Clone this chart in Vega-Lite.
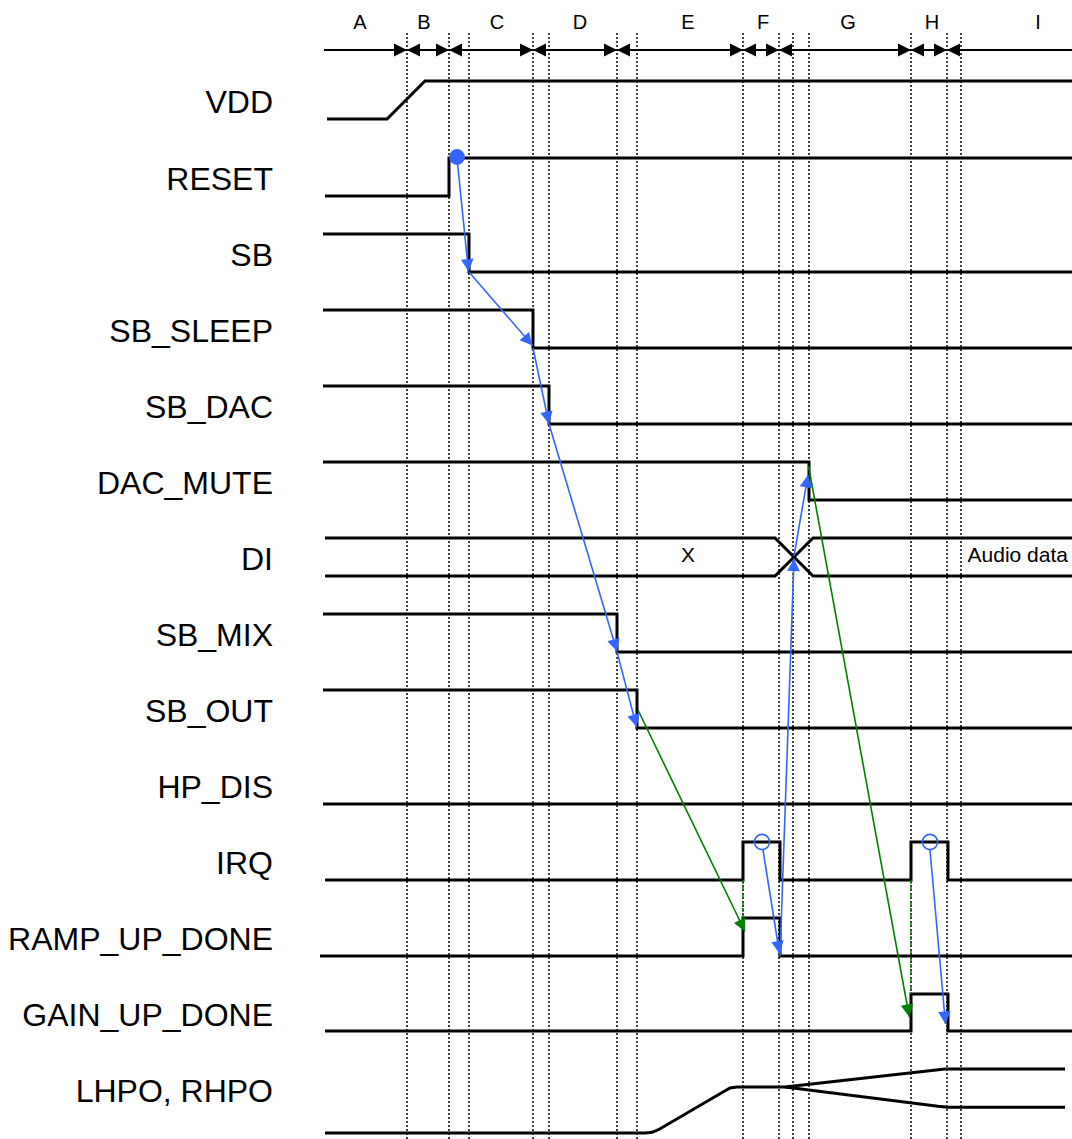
{
  "$schema": "https://vega.github.io/schema/vega-lite/v6.json",
  "width": 1072,
  "height": 1139,
  "autosize": {"type": "none"},
  "padding": 0,
  "background": "white",
  "config": {"view": {"stroke": null}},
  "datasets": {
    "grid": [
      {"t": 407, "v": 33, "v2": 1139}, {"t": 449, "v": 33, "v2": 1139}, {"t": 469, "v": 33, "v2": 1139},
      {"t": 533, "v": 33, "v2": 1139}, {"t": 549, "v": 33, "v2": 1139}, {"t": 617, "v": 33, "v2": 1139},
      {"t": 637, "v": 33, "v2": 1139}, {"t": 743, "v": 33, "v2": 1139}, {"t": 779, "v": 33, "v2": 1139},
      {"t": 793, "v": 33, "v2": 1139}, {"t": 809, "v": 33, "v2": 1139}, {"t": 911, "v": 33, "v2": 1139},
      {"t": 947, "v": 33, "v2": 1139}, {"t": 961, "v": 33, "v2": 1139}
    ],
    "timeline": [{"t": 324, "t2": 1072, "v": 50}],
    "bounds": [
      {"t": 407, "v": 50}, {"t": 449, "v": 50}, {"t": 533, "v": 50}, {"t": 617, "v": 50},
      {"t": 743, "v": 50}, {"t": 779, "v": 50}, {"t": 911, "v": 50}, {"t": 947, "v": 50}
    ],
    "phases": [
      {"p": "A", "t": 360, "v": 22}, {"p": "B", "t": 424, "v": 22}, {"p": "C", "t": 497, "v": 22},
      {"p": "D", "t": 580, "v": 22}, {"p": "E", "t": 688, "v": 22}, {"p": "F", "t": 763, "v": 22},
      {"p": "G", "t": 848, "v": 22}, {"p": "H", "t": 932, "v": 22}, {"p": "I", "t": 1038, "v": 22}
    ],
    "signals": [
      {"s": "VDD", "v": 100}, {"s": "RESET", "v": 177}, {"s": "SB", "v": 253},
      {"s": "SB_SLEEP", "v": 329}, {"s": "SB_DAC", "v": 405}, {"s": "DAC_MUTE", "v": 481},
      {"s": "DI", "v": 557}, {"s": "SB_MIX", "v": 633}, {"s": "SB_OUT", "v": 709},
      {"s": "HP_DIS", "v": 785}, {"s": "IRQ", "v": 861}, {"s": "RAMP_UP_DONE", "v": 937},
      {"s": "GAIN_UP_DONE", "v": 1013}, {"s": "LHPO, RHPO", "v": 1089}
    ],
    "waves": [
      {"w": "VDD", "o": 1, "t": 327, "v": 119}, {"w": "VDD", "o": 2, "t": 387, "v": 119},
      {"w": "VDD", "o": 3, "t": 425, "v": 81}, {"w": "VDD", "o": 4, "t": 1072, "v": 81},
      {"w": "RESET", "o": 1, "t": 325, "v": 196}, {"w": "RESET", "o": 2, "t": 449, "v": 196},
      {"w": "RESET", "o": 3, "t": 449, "v": 158}, {"w": "RESET", "o": 4, "t": 1072, "v": 158},
      {"w": "SB", "o": 1, "t": 323, "v": 234}, {"w": "SB", "o": 2, "t": 469, "v": 234},
      {"w": "SB", "o": 3, "t": 469, "v": 272}, {"w": "SB", "o": 4, "t": 1072, "v": 272},
      {"w": "SB_SLEEP", "o": 1, "t": 323, "v": 310}, {"w": "SB_SLEEP", "o": 2, "t": 533, "v": 310},
      {"w": "SB_SLEEP", "o": 3, "t": 533, "v": 348}, {"w": "SB_SLEEP", "o": 4, "t": 1072, "v": 348},
      {"w": "SB_DAC", "o": 1, "t": 323, "v": 386}, {"w": "SB_DAC", "o": 2, "t": 549, "v": 386},
      {"w": "SB_DAC", "o": 3, "t": 549, "v": 424}, {"w": "SB_DAC", "o": 4, "t": 1072, "v": 424},
      {"w": "DAC_MUTE", "o": 1, "t": 323, "v": 462}, {"w": "DAC_MUTE", "o": 2, "t": 809, "v": 462},
      {"w": "DAC_MUTE", "o": 3, "t": 809, "v": 500}, {"w": "DAC_MUTE", "o": 4, "t": 1072, "v": 500},
      {"w": "DI_a", "o": 1, "t": 325, "v": 538}, {"w": "DI_a", "o": 2, "t": 775, "v": 538},
      {"w": "DI_a", "o": 3, "t": 813, "v": 576}, {"w": "DI_a", "o": 4, "t": 1072, "v": 576},
      {"w": "DI_b", "o": 1, "t": 325, "v": 576}, {"w": "DI_b", "o": 2, "t": 775, "v": 576},
      {"w": "DI_b", "o": 3, "t": 813, "v": 538}, {"w": "DI_b", "o": 4, "t": 1072, "v": 538},
      {"w": "SB_MIX", "o": 1, "t": 323, "v": 614}, {"w": "SB_MIX", "o": 2, "t": 617, "v": 614},
      {"w": "SB_MIX", "o": 3, "t": 617, "v": 652}, {"w": "SB_MIX", "o": 4, "t": 1072, "v": 652},
      {"w": "SB_OUT", "o": 1, "t": 323, "v": 690}, {"w": "SB_OUT", "o": 2, "t": 637, "v": 690},
      {"w": "SB_OUT", "o": 3, "t": 637, "v": 728}, {"w": "SB_OUT", "o": 4, "t": 1072, "v": 728},
      {"w": "HP_DIS", "o": 1, "t": 323, "v": 804}, {"w": "HP_DIS", "o": 2, "t": 1072, "v": 804},
      {"w": "IRQ", "o": 1, "t": 325, "v": 880}, {"w": "IRQ", "o": 2, "t": 743, "v": 880},
      {"w": "IRQ", "o": 3, "t": 743, "v": 842}, {"w": "IRQ", "o": 4, "t": 780, "v": 842},
      {"w": "IRQ", "o": 5, "t": 780, "v": 880}, {"w": "IRQ", "o": 6, "t": 911, "v": 880},
      {"w": "IRQ", "o": 7, "t": 911, "v": 842}, {"w": "IRQ", "o": 8, "t": 948, "v": 842},
      {"w": "IRQ", "o": 9, "t": 948, "v": 880}, {"w": "IRQ", "o": 10, "t": 1072, "v": 880},
      {"w": "RAMP_UP_DONE", "o": 1, "t": 320, "v": 956}, {"w": "RAMP_UP_DONE", "o": 2, "t": 743, "v": 956},
      {"w": "RAMP_UP_DONE", "o": 3, "t": 743, "v": 918}, {"w": "RAMP_UP_DONE", "o": 4, "t": 780, "v": 918},
      {"w": "RAMP_UP_DONE", "o": 5, "t": 780, "v": 956}, {"w": "RAMP_UP_DONE", "o": 6, "t": 1072, "v": 956},
      {"w": "GAIN_UP_DONE", "o": 1, "t": 325, "v": 1031}, {"w": "GAIN_UP_DONE", "o": 2, "t": 911, "v": 1031},
      {"w": "GAIN_UP_DONE", "o": 3, "t": 911, "v": 994}, {"w": "GAIN_UP_DONE", "o": 4, "t": 948, "v": 994},
      {"w": "GAIN_UP_DONE", "o": 5, "t": 948, "v": 1031}, {"w": "GAIN_UP_DONE", "o": 6, "t": 1072, "v": 1031},
      {"w": "HPO_up", "o": 1, "t": 325, "v": 1133}, {"w": "HPO_up", "o": 2, "t": 645, "v": 1133},
      {"w": "HPO_up", "o": 3, "t": 652, "v": 1132.3}, {"w": "HPO_up", "o": 4, "t": 658, "v": 1130},
      {"w": "HPO_up", "o": 5, "t": 723, "v": 1092}, {"w": "HPO_up", "o": 6, "t": 730, "v": 1088},
      {"w": "HPO_up", "o": 7, "t": 737, "v": 1087}, {"w": "HPO_up", "o": 8, "t": 785, "v": 1087},
      {"w": "HPO_up", "o": 9, "t": 945, "v": 1069}, {"w": "HPO_up", "o": 10, "t": 1065, "v": 1069},
      {"w": "HPO_dn", "o": 1, "t": 785, "v": 1087}, {"w": "HPO_dn", "o": 2, "t": 938, "v": 1106.3},
      {"w": "HPO_dn", "o": 3, "t": 948, "v": 1107.3}, {"w": "HPO_dn", "o": 4, "t": 1065, "v": 1107.3}
    ],
    "dashes": [
      {"t": 743, "v": 880, "v2": 918},
      {"t": 911, "v": 880, "v2": 994}
    ],
    "arrows": [
      {"c": "blue", "t": 457, "v": 158, "t2": 468.5, "v2": 271.5},
      {"c": "blue", "t": 469, "v": 272, "t2": 532.5, "v2": 345.5},
      {"c": "blue", "t": 533, "v": 348, "t2": 549, "v2": 424},
      {"c": "blue", "t": 549, "v": 424, "t2": 617, "v2": 651.5},
      {"c": "blue", "t": 617, "v": 652, "t2": 636.7, "v2": 727},
      {"c": "green", "t": 638, "v": 710, "t2": 745, "v2": 931.5},
      {"c": "blue", "t": 763, "v": 850, "t2": 779.5, "v2": 953.5},
      {"c": "blue", "t": 780, "v": 956, "t2": 794, "v2": 558.5},
      {"c": "blue", "t": 794, "v": 556, "t2": 808, "v2": 475},
      {"c": "green", "t": 808.5, "v": 466, "t2": 909.3, "v2": 1017},
      {"c": "blue", "t": 930, "v": 850, "t2": 945.5, "v2": 1024}
    ],
    "dots": [
      {"k": "filled", "t": 457, "v": 157}
    ],
    "rings": [
      {"k": "open", "t": 762, "v": 842},
      {"k": "open", "t": 930, "v": 842}
    ],
    "notes": [
      {"n": "X", "t": 688, "v": 554, "a": "center"},
      {"n": "Audio data", "t": 1068, "v": 554, "a": "right"}
    ]
  },
  "layer": [
    {
      "data": {"name": "grid"},
      "mark": {"type": "rule", "color": "black", "strokeWidth": 1.5, "strokeDash": [2, 2]},
      "encoding": {
        "x": {"field": "t", "type": "quantitative", "scale": {"domain": [0, 1072], "nice": false, "zero": false}, "axis": null},
        "y": {"field": "v", "type": "quantitative", "scale": {"domain": [0, 1139], "nice": false, "zero": false, "reverse": true}, "axis": null},
        "y2": {"field": "v2"}
      }
    },
    {
      "data": {"name": "timeline"},
      "mark": {"type": "rule", "color": "black", "strokeWidth": 1.8},
      "encoding": {
        "x": {"field": "t", "type": "quantitative", "scale": {"domain": [0, 1072], "nice": false, "zero": false}, "axis": null},
        "x2": {"field": "t2"},
        "y": {"field": "v", "type": "quantitative", "scale": {"domain": [0, 1139], "nice": false, "zero": false, "reverse": true}, "axis": null}
      }
    },
    {
      "data": {"name": "bounds"},
      "mark": {"type": "point", "shape": "M0,0L-2,-1L-2,1Z", "size": 169, "filled": true, "color": "black", "opacity": 1},
      "encoding": {
        "x": {"field": "t", "type": "quantitative", "scale": {"domain": [0, 1072], "nice": false, "zero": false}, "axis": null},
        "y": {"field": "v", "type": "quantitative", "scale": {"domain": [0, 1139], "nice": false, "zero": false, "reverse": true}, "axis": null}
      }
    },
    {
      "data": {"name": "bounds"},
      "mark": {"type": "point", "shape": "M0,0L2,-1L2,1Z", "size": 169, "filled": true, "color": "black", "opacity": 1},
      "encoding": {
        "x": {"field": "t", "type": "quantitative", "scale": {"domain": [0, 1072], "nice": false, "zero": false}, "axis": null},
        "y": {"field": "v", "type": "quantitative", "scale": {"domain": [0, 1139], "nice": false, "zero": false, "reverse": true}, "axis": null}
      }
    },
    {
      "data": {"name": "waves"},
      "mark": {"type": "line", "color": "black", "strokeWidth": 3, "strokeJoin": "miter", "strokeCap": "butt"},
      "encoding": {
        "x": {"field": "t", "type": "quantitative", "scale": {"domain": [0, 1072], "nice": false, "zero": false}, "axis": null},
        "y": {"field": "v", "type": "quantitative", "scale": {"domain": [0, 1139], "nice": false, "zero": false, "reverse": true}, "axis": null},
        "detail": {"field": "w", "type": "nominal"},
        "order": {"field": "o", "type": "quantitative"}
      }
    },
    {
      "data": {"name": "dashes"},
      "mark": {"type": "rule", "color": "#008000", "strokeWidth": 1.5, "strokeDash": [4, 3]},
      "encoding": {
        "x": {"field": "t", "type": "quantitative", "scale": {"domain": [0, 1072], "nice": false, "zero": false}, "axis": null},
        "y": {"field": "v", "type": "quantitative", "scale": {"domain": [0, 1139], "nice": false, "zero": false, "reverse": true}, "axis": null},
        "y2": {"field": "v2"}
      }
    },
    {
      "data": {"name": "arrows"},
      "mark": {"type": "rule", "strokeWidth": 1.6},
      "encoding": {
        "x": {"field": "t", "type": "quantitative", "scale": {"domain": [0, 1072], "nice": false, "zero": false}, "axis": null},
        "x2": {"field": "t2"},
        "y": {"field": "v", "type": "quantitative", "scale": {"domain": [0, 1139], "nice": false, "zero": false, "reverse": true}, "axis": null},
        "y2": {"field": "v2"},
        "color": {"field": "c", "type": "nominal", "scale": {"domain": ["blue", "green"], "range": ["#3366ff", "#008000"]}, "legend": null}
      }
    },
    {
      "data": {"name": "arrows"},
      "transform": [
        {"calculate": "atan2(datum.v2 - datum.v, datum.t2 - datum.t) * 180 / PI", "as": "ang"}
      ],
      "mark": {"type": "point", "shape": "M0,0L-2,-1L-2,1Z", "size": 156, "filled": true, "opacity": 1},
      "encoding": {
        "x": {"field": "t2", "type": "quantitative", "scale": {"domain": [0, 1072], "nice": false, "zero": false}, "axis": null},
        "y": {"field": "v2", "type": "quantitative", "scale": {"domain": [0, 1139], "nice": false, "zero": false, "reverse": true}, "axis": null},
        "angle": {"field": "ang", "type": "quantitative", "scale": null},
        "color": {"field": "c", "type": "nominal", "scale": {"domain": ["blue", "green"], "range": ["#3366ff", "#008000"]}, "legend": null}
      }
    },
    {
      "data": {"name": "dots"},
      "mark": {"type": "point", "shape": "circle", "size": 250, "filled": true, "color": "#3366ff", "opacity": 1},
      "encoding": {
        "x": {"field": "t", "type": "quantitative", "scale": {"domain": [0, 1072], "nice": false, "zero": false}, "axis": null},
        "y": {"field": "v", "type": "quantitative", "scale": {"domain": [0, 1139], "nice": false, "zero": false, "reverse": true}, "axis": null}
      }
    },
    {
      "data": {"name": "rings"},
      "mark": {"type": "point", "shape": "circle", "size": 230, "filled": false, "color": "#3366ff", "strokeWidth": 1.6, "opacity": 1},
      "encoding": {
        "x": {"field": "t", "type": "quantitative", "scale": {"domain": [0, 1072], "nice": false, "zero": false}, "axis": null},
        "y": {"field": "v", "type": "quantitative", "scale": {"domain": [0, 1139], "nice": false, "zero": false, "reverse": true}, "axis": null}
      }
    },
    {
      "data": {"name": "signals"},
      "mark": {"type": "text", "align": "right", "baseline": "middle", "dy": 2.5, "font": "Liberation Sans", "fontSize": 32, "color": "black"},
      "encoding": {
        "x": {"datum": 273, "type": "quantitative", "scale": {"domain": [0, 1072], "nice": false, "zero": false}, "axis": null},
        "y": {"field": "v", "type": "quantitative", "scale": {"domain": [0, 1139], "nice": false, "zero": false, "reverse": true}, "axis": null},
        "text": {"field": "s"}
      }
    },
    {
      "data": {"name": "phases"},
      "mark": {"type": "text", "align": "center", "baseline": "middle", "dy": 0.5, "font": "Liberation Sans", "fontSize": 20, "color": "black"},
      "encoding": {
        "x": {"field": "t", "type": "quantitative", "scale": {"domain": [0, 1072], "nice": false, "zero": false}, "axis": null},
        "y": {"field": "v", "type": "quantitative", "scale": {"domain": [0, 1139], "nice": false, "zero": false, "reverse": true}, "axis": null},
        "text": {"field": "p"}
      }
    },
    {
      "data": {"name": "notes"},
      "transform": [{"filter": "datum.a == 'center'"}],
      "mark": {"type": "text", "align": "center", "baseline": "middle", "dy": 1.5, "font": "Liberation Sans", "fontSize": 21, "color": "black"},
      "encoding": {
        "x": {"field": "t", "type": "quantitative", "scale": {"domain": [0, 1072], "nice": false, "zero": false}, "axis": null},
        "y": {"field": "v", "type": "quantitative", "scale": {"domain": [0, 1139], "nice": false, "zero": false, "reverse": true}, "axis": null},
        "text": {"field": "n"}
      }
    },
    {
      "data": {"name": "notes"},
      "transform": [{"filter": "datum.a == 'right'"}],
      "mark": {"type": "text", "align": "right", "baseline": "middle", "dy": 1.5, "font": "Liberation Sans", "fontSize": 21, "color": "black"},
      "encoding": {
        "x": {"field": "t", "type": "quantitative", "scale": {"domain": [0, 1072], "nice": false, "zero": false}, "axis": null},
        "y": {"field": "v", "type": "quantitative", "scale": {"domain": [0, 1139], "nice": false, "zero": false, "reverse": true}, "axis": null},
        "text": {"field": "n"}
      }
    }
  ]
}
